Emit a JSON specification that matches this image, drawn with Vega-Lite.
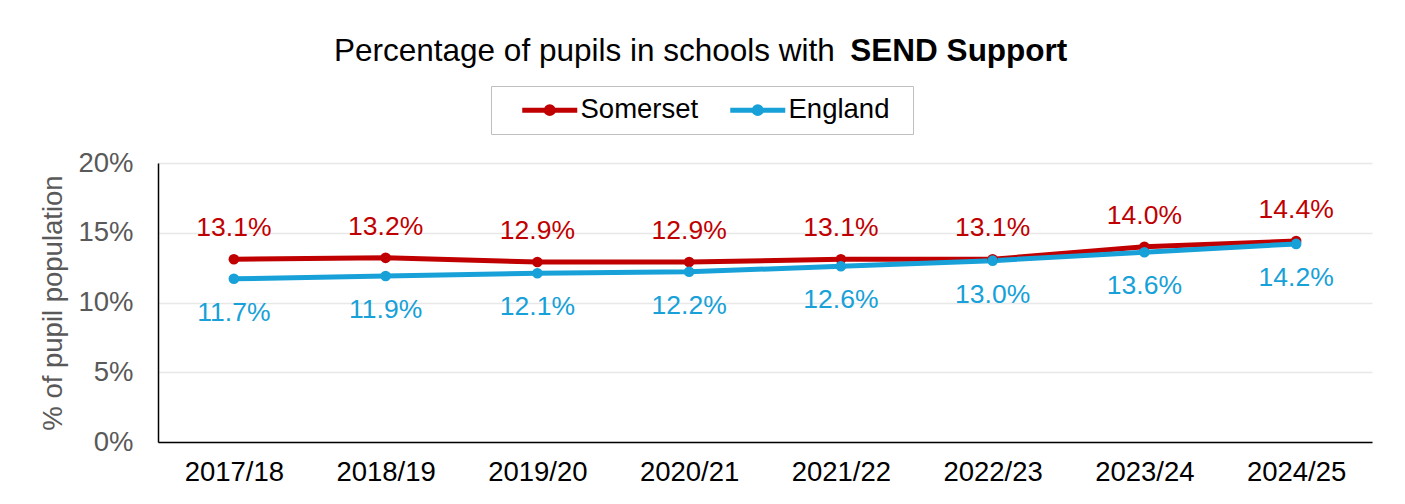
{
  "$schema": "https://vega.github.io/schema/vega-lite/v6.json",
  "width": 1214,
  "height": 279,
  "autosize": {"type": "none"},
  "padding": {"left": 158, "top": 163, "right": 33, "bottom": 62},
  "background": "white",
  "config": {
    "view": {"stroke": null},
    "font": "Liberation Sans"
  },
  "title": {
    "text": "Percentage of pupils in schools with",
    "subtitle": "\u200b\u00a0\u00a0\u00a0\u00a0\u00a0\u00a0\u00a0\u00a0\u00a0\u00a0\u00a0\u00a0\u00a0\u00a0\u00a0\u00a0\u00a0\u00a0\u00a0\u00a0\u00a0\u00a0\u00a0\u00a0\u00a0\u00a0\u00a0\u00a0\u00a0\u00a0\u00a0\u00a0\u00a0\u00a0\u00a0\u00a0\u00a0\u00a0\u00a0\u00a0\u00a0\u00a0\u00a0\u00a0\u00a0\u00a0\u00a0\u00a0\u00a0\u00a0\u00a0\u00a0\u00a0\u00a0\u00a0\u00a0\u00a0\u00a0\u00a0SEND Support",
    "anchor": "start",
    "frame": "group",
    "align": "left",
    "dx": 176,
    "offset": 18,
    "font": "Liberation Sans",
    "fontSize": 31.5,
    "fontWeight": "normal",
    "color": "#000000",
    "subtitleFont": "Liberation Sans",
    "subtitleFontSize": 31.5,
    "subtitleFontWeight": "bold",
    "subtitleColor": "#000000",
    "subtitlePadding": -31.5
  },
  "data": {
    "values": [
      {"year": "2017/18", "area": "Somerset", "value": 0.131},
      {"year": "2018/19", "area": "Somerset", "value": 0.132},
      {"year": "2019/20", "area": "Somerset", "value": 0.129},
      {"year": "2020/21", "area": "Somerset", "value": 0.129},
      {"year": "2021/22", "area": "Somerset", "value": 0.131},
      {"year": "2022/23", "area": "Somerset", "value": 0.131},
      {"year": "2023/24", "area": "Somerset", "value": 0.140},
      {"year": "2024/25", "area": "Somerset", "value": 0.144},
      {"year": "2017/18", "area": "England", "value": 0.117},
      {"year": "2018/19", "area": "England", "value": 0.119},
      {"year": "2019/20", "area": "England", "value": 0.121},
      {"year": "2020/21", "area": "England", "value": 0.122},
      {"year": "2021/22", "area": "England", "value": 0.126},
      {"year": "2022/23", "area": "England", "value": 0.130},
      {"year": "2023/24", "area": "England", "value": 0.136},
      {"year": "2024/25", "area": "England", "value": 0.142}
    ]
  },
  "encoding": {
    "x": {
      "field": "year",
      "type": "ordinal",
      "sort": null,
      "scale": {"type": "point", "padding": 0.5},
      "axis": {
        "title": null,
        "labelAngle": 0,
        "labelFontSize": 27.5,
        "labelColor": "#000000",
        "labelPadding": 16,
        "ticks": false,
        "grid": false,
        "domainColor": "#000000",
        "domainWidth": 1.5
      }
    },
    "y": {
      "field": "value",
      "type": "quantitative",
      "scale": {"domain": [0, 0.2], "nice": false},
      "axis": {
        "values": [0, 0.05, 0.1, 0.15, 0.2],
        "format": ".0%",
        "title": "% of pupil population",
        "titleFontSize": 27.5,
        "titleFontWeight": "normal",
        "titleColor": "#595959",
        "titlePadding": 10,
        "labelFontSize": 27.5,
        "labelColor": "#595959",
        "labelPadding": 25,
        "ticks": false,
        "domainColor": "#000000",
        "domainWidth": 1.5,
        "gridColor": "#e8e8e8",
        "gridWidth": 1.5
      }
    }
  },
  "layer": [
    {
      "mark": {"type": "line", "strokeWidth": 5, "point": {"filled": true, "size": 113}},
      "encoding": {
        "color": {
          "field": "area",
          "type": "nominal",
          "sort": ["Somerset", "England"],
          "scale": {"domain": ["Somerset", "England"], "range": ["#C00000", "#17A1D8"]},
          "legend": {
            "title": null,
            "orient": "none",
            "direction": "horizontal",
            "legendX": 333,
            "legendY": -77,
            "padding": 10,
            "strokeColor": "#bfbfbf",
            "fillColor": "#ffffff",
            "gridAlign": "each",
            "columnPadding": 10,
            "labelFontSize": 27.5,
            "labelColor": "#000000",
            "labelOffset": 52,
            "symbolType": "M0.682,0H5.682M2.864,0A0.318,0.318,0,1,1,3.5,0A0.318,0.318,0,1,1,2.864,0ZM15.4,0",
            "symbolSize": 484,
            "symbolStrokeWidth": 5,
            "encode": {
              "symbols": {
                "update": {
                  "fill": {"scale": "color", "field": "value"},
                  "stroke": {"scale": "color", "field": "value"}
                }
              }
            }
          }
        }
      }
    },
    {
      "transform": [{"filter": "datum.area === 'Somerset'"}],
      "mark": {"type": "text", "dy": -31, "fontSize": 26.5, "color": "#C00000", "baseline": "middle"},
      "encoding": {"text": {"field": "value", "type": "quantitative", "format": ".1%"}}
    },
    {
      "transform": [{"filter": "datum.area === 'England'"}],
      "mark": {"type": "text", "dy": 34, "fontSize": 26.5, "color": "#17A1D8", "baseline": "middle"},
      "encoding": {"text": {"field": "value", "type": "quantitative", "format": ".1%"}}
    }
  ]
}
